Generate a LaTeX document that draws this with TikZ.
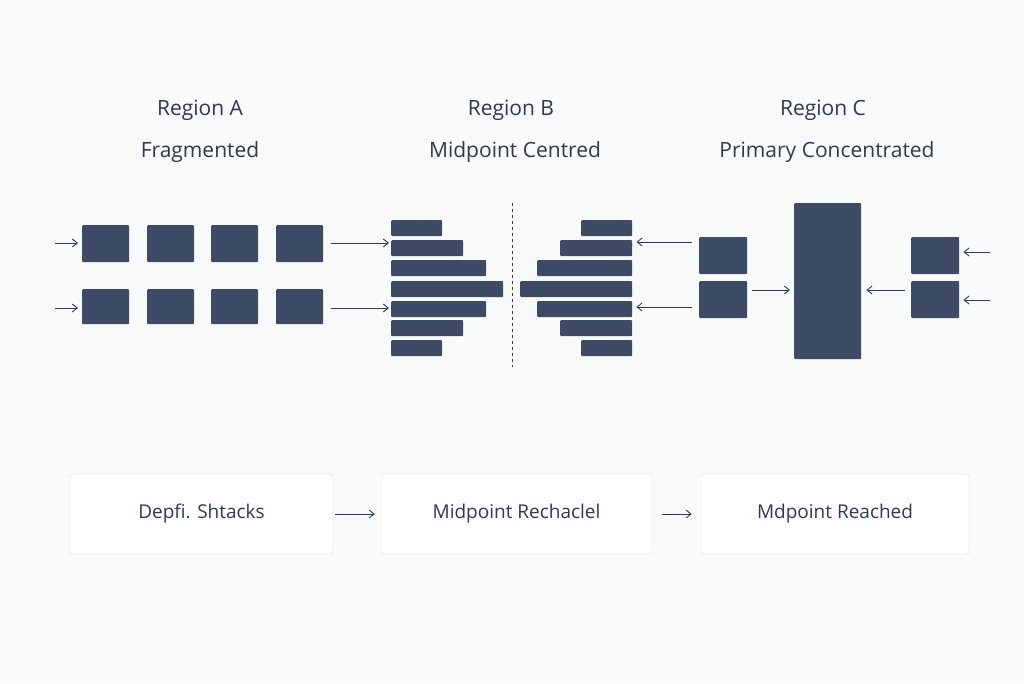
\documentclass[tikz,border=0pt]{standalone}
\usepackage{fontspec}
\setmainfont{Open Sans}
\usetikzlibrary{positioning,arrows.meta}
\definecolor{slate}{HTML}{3E4B66}
\definecolor{ink}{HTML}{2E3A50}
\tikzset{
  blk/.style={fill=slate, draw=none, rounded corners=1pt, inner sep=0pt},
  arr/.style={-{Straight Barb[length=5pt,width=8pt]}, draw=ink, line width=0.9pt},
  ttl/.style={text=ink, font=\fontsize{21}{24}\selectfont},
  box/.style={draw=black!15, fill=white, rounded corners=3pt, text=ink,
              font=\fontsize{19}{22}\selectfont, minimum height=80pt}
}
% block from corner (x1,y1) to (x2,y2)
\newcommand{\blk}[5]{\pgfmathsetmacro{\bw}{(#4)-(#2)}\pgfmathsetmacro{\bh}{(#5)-(#3)}%
  \node[blk, anchor=north west, minimum width=\bw pt, minimum height=\bh pt] (#1) at (#2,#3) {};}
\begin{document}
\begin{tikzpicture}[x=1pt, y=-1pt]
\fill[white!97!slate] (0,0) rectangle (1024,683);
% titles
\node[ttl] (ta) at (200,110) {Region A};
\node[ttl] (fa) at (200,152) {Fragmented};
\node[ttl] (tb) at (511,110) {Region B};
\node[ttl] (fb) at (515,152) {Midpoint Centred};
\node[ttl] (tc) at (823,110) {Region C};
\node[ttl] (fc) at (827,152) {Primary Concentrated};
% region A
\foreach \x [count=\i] in {82,147,211,276} {
  \blk{a\i}{\x}{225}{\x+47}{262}
  \blk{b\i}{\x}{289}{\x+47}{324}
}
\coordinate (ia) at (55,243); \coordinate (ib) at (55,308);
\draw[arr] (ia) -- ([xshift=-4pt]a1.west|-ia);
\draw[arr] (ib) -- ([xshift=-4pt]b1.west|-ib);
% region B
\foreach \y/\w [count=\i] in {220/51,240/72,260/95,281/112,301/95,320/72,340/51} {
  \blk{l\i}{391}{\y}{391+\w}{\y+16}
  \blk{r\i}{632-\w}{\y}{632}{\y+16}
}
\draw[ink, dashed, thick] (512,203) -- (512,367);
\coordinate (oa) at (331,243); \coordinate (ob) at (331,308);
\draw[arr] (oa) -- ([xshift=-2pt]l2.west|-oa);
\draw[arr] (ob) -- ([xshift=-2pt]l5.west|-ob);
% region C
\blk{c1}{699}{237}{747}{274}
\blk{c2}{699}{281}{747}{318}
\blk{big}{794}{203}{861}{359}
\blk{d1}{911}{237}{959}{274}
\blk{d2}{911}{281}{959}{318}
\coordinate (pa) at (692,242); \coordinate (pb) at (692,307);
\draw[arr] (pa) -- ([xshift=4pt]r2.east|-pa);
\draw[arr] (pb) -- ([xshift=4pt]r5.east|-pb);
\coordinate (qa) at (752,290); \coordinate (qb) at (905,290);
\draw[arr] (qa) -- ([xshift=-4pt]big.west|-qa);
\draw[arr] (qb) -- ([xshift=5pt]big.east|-qb);
\coordinate (ea) at (990,252); \coordinate (eb) at (990,300);
\draw[arr] (ea) -- ([xshift=4pt]d1.east|-ea);
\draw[arr] (eb) -- ([xshift=4pt]d2.east|-eb);
% stages
\node[box, minimum width=263pt] (s1) at (201.5,514) {Depfi. Shtacks};
\node[box, minimum width=271pt] (s2) at (516.5,514) {Midpoint Rechaclel};
\node[box, minimum width=268pt] (s3) at (835,514) {Mdpoint Reached};
\draw[arr] ([xshift=2pt]s1.east) -- ([xshift=-6pt]s2.west);
\draw[arr] ([xshift=10pt]s2.east) -- ([xshift=-9pt]s3.west);
\end{tikzpicture}
\end{document}
